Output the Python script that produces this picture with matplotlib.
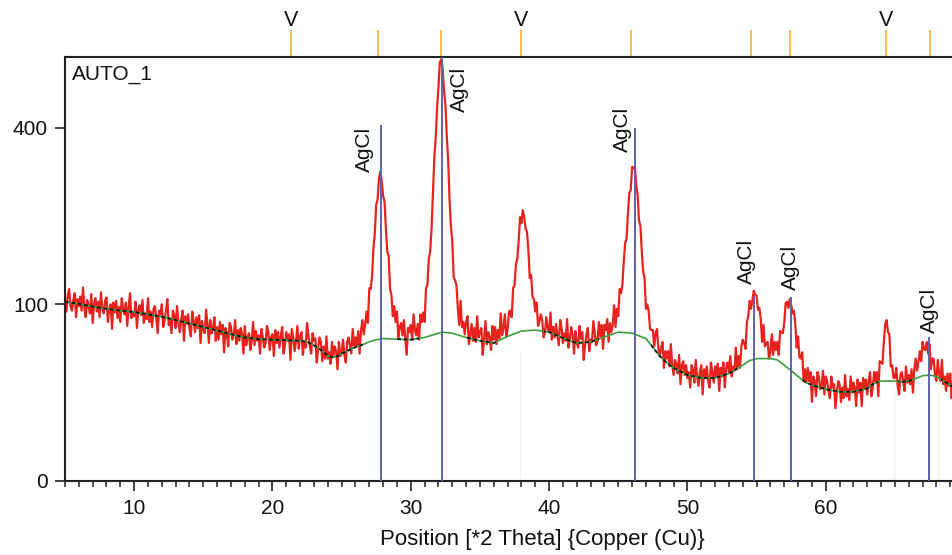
import numpy as np
import matplotlib
matplotlib.use("Agg")
import matplotlib.pyplot as plt
from matplotlib.patches import Rectangle
from matplotlib.ticker import MultipleLocator, FixedLocator
from matplotlib.transforms import blended_transform_factory

plt.rcParams["font.family"] = ["Liberation Sans", "DejaVu Sans"]

# measured scan, 2theta from 5.0 in steps of 0.1 deg
theta_start = 5.0
theta_step = 0.1
counts = [
    106, 92, 111, 118, 98, 93, 104, 113, 86, 106, 98, 109, 93, 120, 96, 86, 105, 99, 90, 112,
    80, 101, 107, 92, 103, 86, 114, 95, 90, 104, 108, 81, 95, 100, 74, 102, 91, 104, 85, 97,
    81, 107, 95, 89, 102, 77, 97, 113, 85, 90,
    87, 103, 75, 94, 99, 88, 105, 80, 90, 84, 107, 81, 92, 76, 95, 98, 85, 70, 93, 89,
    100, 76, 82, 93, 106, 78, 84, 70, 93, 88, 75, 98, 80, 71, 84, 93, 63, 87, 79, 89,
    74, 67, 92, 82, 71, 86, 75, 88, 61, 82,
    74, 70, 94, 79, 61, 83, 70, 75, 86, 63, 76, 64, 81, 69, 78, 53, 75, 70, 58, 80,
    76, 64, 68, 83, 60, 73, 63, 75, 70, 52, 77, 59, 66, 70, 55, 63, 81, 59, 72, 63,
    68, 52, 74, 66, 57, 61, 77, 71, 55, 66,
    69, 50, 73, 61, 71, 57, 67, 76, 52, 59, 71, 63, 69, 47, 74, 66, 54, 62, 77, 56,
    67, 71, 51, 62, 57, 80, 68, 58, 52, 70, 63, 65, 45, 56, 66, 62, 46, 58, 48, 67,
    48, 53, 44, 62, 50, 58, 54, 40, 62, 50,
    53, 64, 51, 45, 62, 66, 59, 52, 74, 59, 66, 58, 72, 52, 72, 83, 69, 78, 92, 80,
    119, 118, 134, 174, 197, 245, 254, 294, 307, 287, 260, 250, 204, 168, 163, 118, 111, 87, 98, 81,
    92, 66, 76, 80, 68, 83, 65, 51, 75, 71,
    78, 64, 89, 73, 68, 79, 64, 89, 81, 91, 81, 119, 123, 158, 169, 203, 263, 334, 376, 446,
    496, 561, 570, 545, 489, 455, 382, 331, 253, 209, 184, 133, 129, 123, 96, 78, 104, 76, 81, 69,
    81, 87, 60, 69, 79, 63, 75, 62, 87, 66,
    71, 75, 51, 64, 82, 60, 71, 66, 55, 77, 64, 76, 60, 73, 65, 90, 68, 75, 89, 67,
    74, 92, 93, 86, 120, 122, 150, 158, 185, 223, 213, 235, 223, 204, 199, 171, 132, 136, 108, 106,
    92, 102, 77, 82, 89, 83, 66, 71, 86, 74,
    71, 91, 64, 76, 66, 79, 69, 59, 83, 75, 61, 70, 63, 84, 57, 65, 76, 68, 52, 72,
    61, 57, 77, 65, 71, 47, 59, 69, 75, 54, 64, 62, 82, 70, 59, 63, 81, 67, 78, 56,
    78, 73, 84, 62, 80, 71, 78, 99, 76, 95,
    87, 118, 113, 124, 155, 182, 188, 230, 266, 271, 316, 313, 317, 280, 262, 217, 209, 169, 140, 132,
    95, 100, 92, 74, 73, 73, 58, 70, 74, 56, 50, 57, 62, 41, 54, 48, 54, 42, 60, 43,
    36, 47, 44, 37, 51, 30, 43, 46, 36, 43,
    34, 38, 28, 43, 40, 31, 47, 35, 29, 38, 43, 24, 40, 35, 42, 32, 28, 45, 38, 31,
    42, 35, 44, 26, 41, 35, 45, 28, 41, 45, 38, 50, 35, 42, 39, 57, 40, 50, 41, 58,
    64, 61, 56, 81, 87, 104, 95, 105, 116, 111,
    110, 94, 96, 84, 62, 78, 58, 61, 62, 48, 54, 69, 51, 62, 55, 62, 51, 72, 71, 70,
    80, 101, 103, 96, 106, 100, 90, 93, 79, 57, 67, 49, 48, 53, 32, 40, 31, 41, 32, 38,
    20, 35, 32, 23, 38, 35, 27, 29, 39, 24,
    35, 32, 26, 22, 35, 28, 30, 17, 25, 32, 30, 20, 28, 22, 36, 23, 27, 21, 35, 25,
    31, 28, 18, 33, 25, 31, 18, 34, 27, 33, 24, 32, 38, 23, 28, 38, 32, 38, 23, 46,
    45, 44, 62, 79, 83, 71, 69, 42, 43, 34,
    34, 41, 29, 24, 36, 38, 32, 26, 42, 31, 36, 30, 40, 25, 40, 48, 39, 45, 54, 46,
    62, 56, 55, 62, 52, 60, 40, 48, 48, 36, 32, 47, 37, 32, 47, 30, 35, 26, 37, 29,
    37, 22, 28,
]
two_theta = theta_start + theta_step * np.arange(len(counts))

# fitted background
bg_theta = [5, 6, 7, 8, 9, 10, 11, 12, 13, 14, 15, 16, 17, 18, 19, 20, 21, 22,
            22.5, 23, 23.5, 24, 24.3, 24.6, 25, 26, 26.5, 27, 27.5, 28,
            29, 30, 31, 32, 32.3, 33, 34, 35, 36, 37, 38, 39, 40, 41, 42, 43, 44, 45, 46, 47, 48,
            48.5, 49, 50, 51, 52, 53, 54, 54.5, 55, 56, 56.5, 57, 57.5, 58, 58.5, 59, 60, 61, 62,
            63, 63.5, 64, 65, 65.5, 66, 67, 67.5, 68, 69, 69.2]
bg_counts = [103, 100.5, 97.5, 95, 93, 91.5, 89, 86.5, 83, 79.5, 76, 72.5, 69, 66, 64.5, 64, 63.5, 63,
             62, 59, 55, 50.5, 49, 49.5, 52, 57.5, 59.5, 62, 64, 65,
             64.5, 64, 66, 70, 71, 70, 66, 63, 61, 67, 72, 73, 71, 65.5, 61, 62, 66.5, 71, 70, 65, 50,
             45, 41, 36, 34, 34, 37, 43, 46.5, 48, 48, 47, 43, 39, 35, 31.5, 29.5, 27, 25.5, 25.5,
             27.5, 30.5, 32, 32, 31.5, 32, 35.5, 36, 35, 29.5, 28.5]

# ranges where the fitted profile sits on the background
fit_windows = [(5, 26.6), (28.9, 30.6), (34.0, 36.2), (39.6, 43.6), (47.4, 53.6),
               (58.2, 63.8), (65.2, 66.2), (68.3, 69.3)]

# AgCl reference pattern
agcl_pos = [27.83, 32.24, 46.23, 54.83, 57.48, 67.47]
agcl_int = [406, 800, 399, 110, 108, 66]
agcl_label_xy = [(26.66, 352), (33.5, 490), (45.31, 397), (54.28, 155), (57.46, 146), (67.51, 93)]

# second phase markers above the plot
v_pos = [21.32, 27.61, 32.16, 37.95, 45.93, 54.58, 57.42, 64.39, 67.55]
v_labelled = [21.32, 37.95, 64.39]

faint_pos = [37.86, 64.94, 68.14]
faint_int = [55, 27, 30]

fig = plt.figure(figsize=(9.53, 5.55), dpi=100)
ax = fig.add_axes([65 / 953, 1 - 481 / 555, 888 / 953, 424 / 555])

ax.set_yscale("function", functions=(lambda y: np.sqrt(np.clip(y, 0, None)), lambda y: y ** 2))
ax.set_xlim(5, 69.2)
ax.set_ylim(0, 576)

ax.vlines(faint_pos, 0, faint_int, color="#f1f1f6", lw=1.0, zorder=1)
ax.plot(two_theta, counts, color="#e8231e", lw=1.6, zorder=2)
ax.plot(bg_theta, bg_counts, color="#3c9e3c", lw=1.2, zorder=3)
for x0, x1 in fit_windows:
    line, = ax.plot(bg_theta, bg_counts, color="#111111", lw=1.3,
                    linestyle=(0, (2.0, 1.6)), zorder=4)
    line.set_clip_path(Rectangle((x0, 0), x1 - x0, 1000, transform=ax.transData))
ax.vlines(agcl_pos, 0, agcl_int, color="#6060b0", lw=1.4, zorder=5)

for (lx, ly) in agcl_label_xy:
    ax.text(lx, ly, "AgCl", rotation=90, ha="center", va="center",
            fontsize=15, color="#111111", zorder=6)

trans = blended_transform_factory(ax.transData, ax.transAxes)
ax.vlines(v_pos, 1.0, 1.064, color="#f2b233", lw=1.2, transform=trans, clip_on=False)
for vx in v_labelled:
    ax.text(vx, 1.087, "V", ha="center", va="center", fontsize=15.5,
            color="#111111", transform=trans, clip_on=False)

ax.text(0.008, 0.982, "AUTO_1", transform=ax.transAxes, ha="left", va="top",
        fontsize=15, color="#111111")

ax.xaxis.set_major_locator(FixedLocator([10, 20, 30, 40, 50, 60]))
ax.xaxis.set_minor_locator(MultipleLocator(1))
ax.yaxis.set_major_locator(FixedLocator([0, 100, 400]))
ax.yaxis.set_minor_locator(FixedLocator([]))
ax.tick_params(axis="both", which="major", direction="out", length=7.2, width=1.2,
               labelsize=15, color="#222222", labelcolor="#111111")
ax.tick_params(axis="x", which="major", pad=6)
ax.tick_params(axis="y", which="major", pad=5)
ax.tick_params(axis="x", which="minor", direction="out", length=4.3, width=1.1, color="#222222")

for side in ["top", "left", "bottom"]:
    ax.spines[side].set_linewidth(1.5)
    ax.spines[side].set_color("#222222")
ax.spines["right"].set_visible(False)

ax.set_xlabel("Position [*2 Theta] {Copper (Cu)}", fontsize=16, color="#111111")
ax.xaxis.set_label_coords(0.538, -0.113)
ax.xaxis.label.set_verticalalignment("top")

fig.savefig("out.png", dpi=100)
